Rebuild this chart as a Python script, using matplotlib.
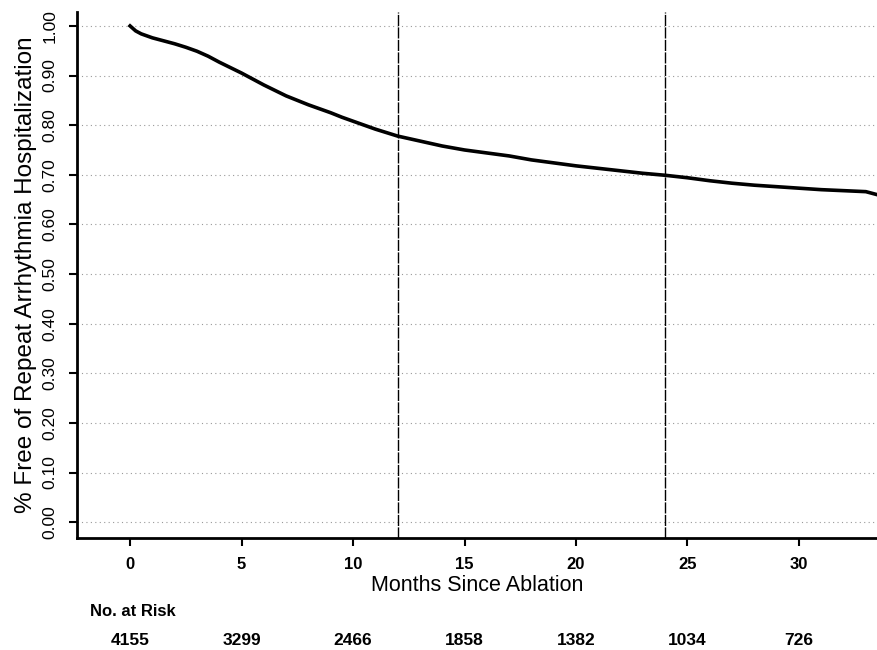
import matplotlib.pyplot as plt

plt.rcParams['font.family'] = ['Liberation Sans', 'DejaVu Sans']

# Kaplan-Meier estimate (months, fraction event-free)
months = [0, 0.25, 0.5, 1, 1.5, 2, 2.5, 3, 3.5, 4, 4.5, 5, 5.5, 6, 6.5, 7, 7.5, 8, 8.5, 9,
          9.5, 10, 10.5, 11, 11.5, 12, 13, 14, 15, 16, 17, 18, 19, 20, 21, 22, 23, 24,
          25, 26, 27, 28, 29, 30, 31, 32, 33, 33.5]
survival = [1.000, 0.990, 0.984, 0.976, 0.970, 0.964, 0.957, 0.949, 0.939, 0.927, 0.916,
            0.905, 0.893, 0.881, 0.870, 0.859, 0.850, 0.841, 0.833, 0.825, 0.816, 0.808,
            0.800, 0.792, 0.785, 0.778, 0.768, 0.758, 0.750, 0.744, 0.738, 0.730, 0.724,
            0.718, 0.713, 0.708, 0.703, 0.699, 0.694, 0.688, 0.683, 0.679, 0.676, 0.673,
            0.670, 0.668, 0.666, 0.660]

risk_months = [0, 5, 10, 15, 20, 25, 30]
at_risk = [4155, 3299, 2466, 1858, 1382, 1034, 726]

yticks = [0.0, 0.1, 0.2, 0.3, 0.4, 0.5, 0.6, 0.7, 0.8, 0.9, 1.0]
ref_lines = [12, 24]

fig = plt.figure(figsize=(8.77, 6.5), dpi=100)
ax = fig.add_axes([0.0878, 0.1723, 0.9122, 0.8092])

for y in yticks:
    ax.axhline(y, color='#9a9a9a', lw=0.8, ls=(0, (1, 3)), zorder=1)
for x in ref_lines:
    ax.axvline(x, color='black', lw=1.0, ls=(0, (8, 1)), zorder=2)

ax.plot(months, survival, color='black', lw=2.6, zorder=3)

ax.set_xlim(-2.38, 33.5)
ax.set_ylim(-0.032, 1.028)
ax.set_xticks(risk_months)
ax.set_yticks(yticks)
ax.set_yticklabels(['%.2f' % v for v in yticks], rotation=90, va='center', fontsize=12.5)
ax.set_xticklabels([str(m) for m in risk_months], fontsize=12, fontweight='bold')
ax.tick_params(axis='both', direction='out', length=6, width=1.5, pad=8)

ax.spines['top'].set_visible(False)
ax.spines['right'].set_visible(False)
ax.spines['left'].set_linewidth(2)
ax.spines['bottom'].set_linewidth(2)

ax.set_ylabel('% Free of Repeat Arrhythmia Hospitalization', fontsize=17.5, labelpad=4)
ax.set_xlabel('Months Since Ablation', fontsize=15.5, labelpad=2)

# number at risk table
ax.text(-1.8, -0.181, 'No. at Risk', fontsize=12, fontweight='bold', ha='left',
        va='center', clip_on=False)
for m, n in zip(risk_months, at_risk):
    ax.text(m, -0.238, str(n), fontsize=12.5, fontweight='bold', ha='center',
            va='center', clip_on=False)

fig.savefig('out.png', dpi=100)
